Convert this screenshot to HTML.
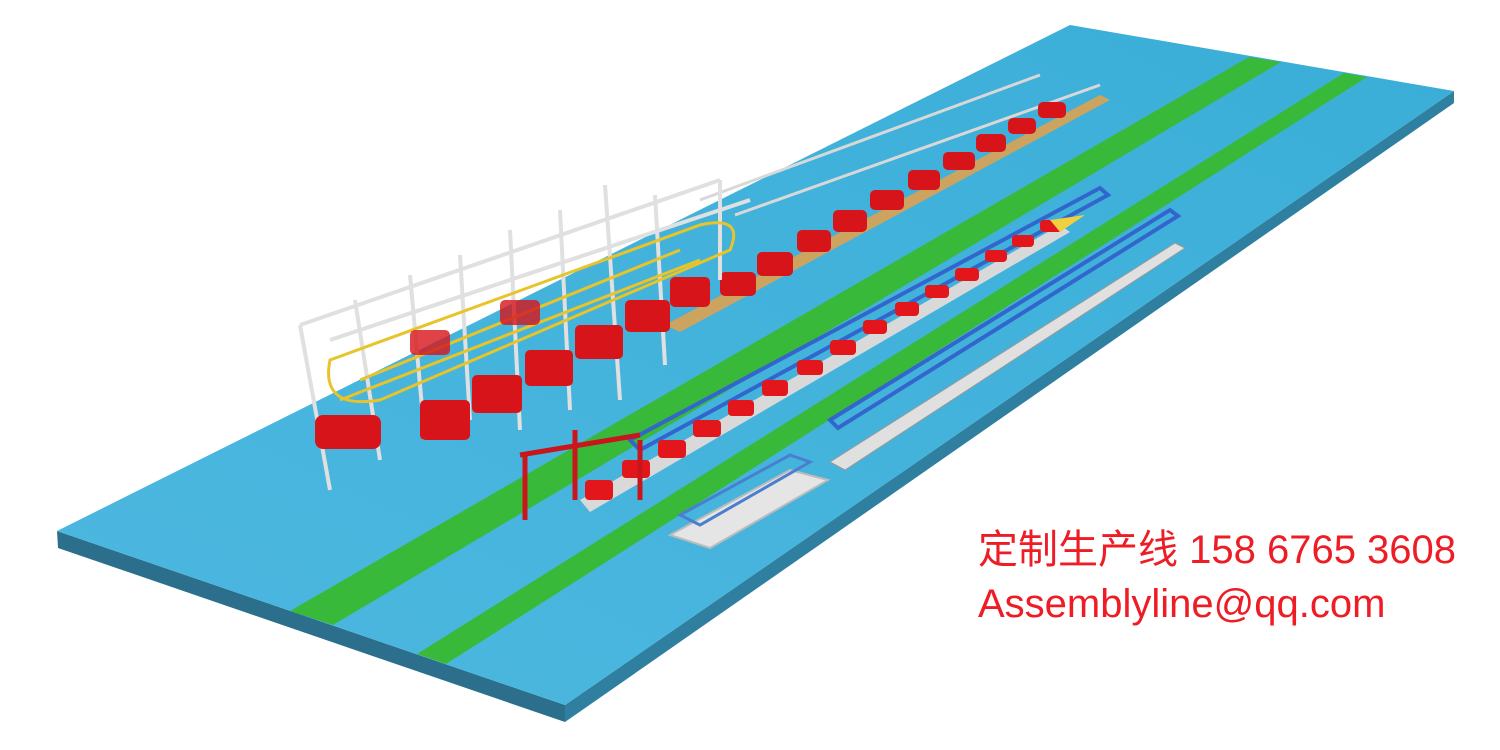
<!DOCTYPE html>
<html><head><meta charset="utf-8"><style>
html,body{margin:0;padding:0;background:#fff;width:1500px;height:750px;overflow:hidden}
svg{position:absolute;left:0;top:0}
.t{position:absolute;left:978px;color:#ee1c25;font-family:"Liberation Sans","Noto Sans CJK SC",sans-serif;font-size:40px;white-space:nowrap;line-height:1}
</style></head><body>
<svg width="1500" height="750" viewBox="0 0 1500 750">
<defs>
<linearGradient id="fl" x1="0" y1="1" x2="1" y2="0"><stop offset="0" stop-color="#4db8e0"/><stop offset="1" stop-color="#3aaed8"/></linearGradient>
</defs>
<polygon points="57,531 565,705 565,722 58,548" fill="#2b6f8c"/>
<polygon points="565,705 1454,91 1454,103 565,722" fill="#2f7fa0"/>
<polygon points="57,531 1070,25 1454,91 565,705" fill="url(#fl)"/>
<polygon points="290,611 1249,57 1281,62 333,625" fill="#39b93a"/>
<polygon points="417,654 1344,73 1367,77 446,664" fill="#39b93a"/>
<polygon points="665,325 1100,95 1110,100 680,332" fill="#f0a040" opacity="0.8"/>
<g stroke="#d8d8d8" stroke-width="3">
<line x1="735" y1="215" x2="1100" y2="85"/>
<line x1="700" y1="200" x2="1040" y2="75"/>
</g>
<g fill="#d7141a">
<rect x="720" y="272" width="36" height="24" rx="5"/><rect x="757" y="252" width="36" height="24" rx="5"/>
<rect x="797" y="230" width="34" height="22" rx="5"/><rect x="833" y="210" width="34" height="22" rx="5"/>
<rect x="870" y="190" width="34" height="20" rx="5"/><rect x="908" y="170" width="32" height="20" rx="5"/>
<rect x="943" y="152" width="32" height="18" rx="5"/><rect x="976" y="134" width="30" height="18" rx="5"/>
<rect x="1008" y="118" width="28" height="16" rx="5"/><rect x="1038" y="102" width="28" height="16" rx="5"/>
</g>
<g stroke="#e0e0e0" stroke-width="4" fill="none">
<line x1="300" y1="325" x2="720" y2="180"/>
<line x1="300" y1="325" x2="330" y2="490"/>
<line x1="355" y1="300" x2="380" y2="460"/>
<line x1="410" y1="275" x2="425" y2="440"/>
<line x1="460" y1="255" x2="470" y2="420"/>
<line x1="510" y1="230" x2="520" y2="430"/>
<line x1="560" y1="210" x2="570" y2="410"/>
<line x1="605" y1="185" x2="620" y2="400"/>
<line x1="655" y1="195" x2="665" y2="365"/>
<line x1="720" y1="180" x2="720" y2="280"/>
<line x1="330" y1="340" x2="750" y2="200"/>
</g>
<g stroke="#e6c42a" stroke-width="3" fill="none">
<path d="M330,360 L700,225 Q745,215 730,250 L380,400 Q320,410 330,360Z"/>
<path d="M340,400 L700,260"/><path d="M360,380 L680,250"/>
</g>
<g fill="#d7141a">
<rect x="315" y="415" width="66" height="34" rx="8"/>
<rect x="420" y="400" width="50" height="40" rx="5"/><rect x="472" y="375" width="50" height="38" rx="5"/>
<rect x="525" y="350" width="48" height="36" rx="5"/><rect x="575" y="325" width="48" height="34" rx="5"/>
<rect x="625" y="300" width="45" height="32" rx="5"/><rect x="670" y="277" width="40" height="30" rx="5"/>
<rect x="410" y="330" width="40" height="25" rx="5" opacity=".8"/><rect x="500" y="300" width="40" height="25" rx="5" opacity=".8"/>
</g>
<polygon points="580,500 1060,225 1070,232 590,512" fill="#d9d9d9"/>
<polygon points="630,440 1100,188 1108,195 640,450" fill="none" stroke="#3366cc" stroke-width="4"/>
<g fill="#e3161c">
<rect x="585" y="480" width="28" height="20" rx="4"/><rect x="622" y="460" width="28" height="18" rx="4"/>
<rect x="658" y="440" width="28" height="18" rx="4"/><rect x="693" y="420" width="28" height="17" rx="4"/>
<rect x="728" y="400" width="26" height="16" rx="4"/><rect x="762" y="380" width="26" height="16" rx="4"/>
<rect x="797" y="360" width="26" height="15" rx="4"/><rect x="830" y="340" width="26" height="15" rx="4"/>
<rect x="863" y="320" width="24" height="14" rx="4"/><rect x="895" y="302" width="24" height="14" rx="4"/>
<rect x="925" y="285" width="24" height="13" rx="4"/><rect x="955" y="268" width="24" height="13" rx="4"/>
<rect x="985" y="250" width="22" height="12" rx="4"/><rect x="1012" y="235" width="22" height="12" rx="4"/>
<rect x="1040" y="220" width="22" height="12" rx="4"/>
</g>
<polygon points="1050,220 1085,215 1060,232" fill="#f0d040"/>
<g stroke="#c8161c" stroke-width="5" fill="none">
<line x1="525" y1="455" x2="525" y2="520"/><line x1="575" y1="430" x2="575" y2="500"/>
<line x1="640" y1="440" x2="640" y2="500"/><line x1="520" y1="455" x2="640" y2="435"/>
</g>
<polygon points="830,420 1170,210 1178,216 838,428" fill="none" stroke="#3366cc" stroke-width="4"/>
<polygon points="830,462 1175,243 1185,248 845,470" fill="#e0e0e0" stroke="#999" stroke-width="1"/>
<polygon points="670,535 790,470 828,480 710,548" fill="#e5e5e5" stroke="#bbb" stroke-width="2"/>
<polygon points="680,515 790,455 810,462 700,525" fill="none" stroke="#4a7fd0" stroke-width="3"/>
</svg>
<div class="t" style="top:530px">定制生产线 158 6765 3608</div>
<div class="t" style="top:584px">Assemblyline@qq.com</div>
</body></html>
